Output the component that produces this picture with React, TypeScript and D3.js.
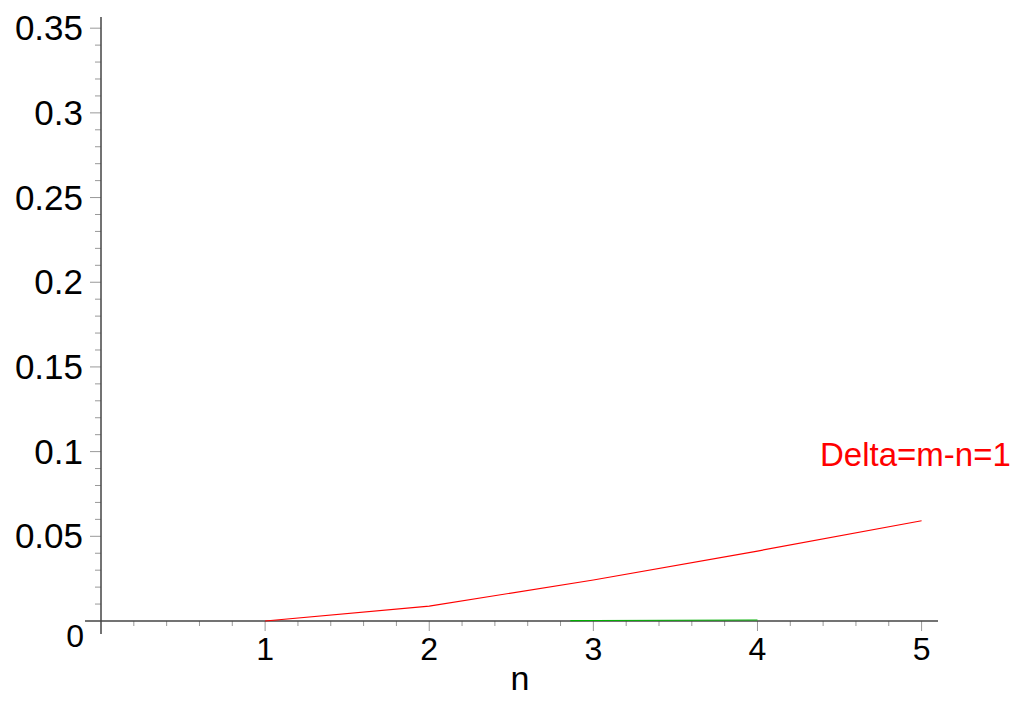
import React, { useEffect, useRef } from 'react';
import * as d3 from 'd3';

const redN = [1, 2, 3, 4, 5];
const redValues = [0, 0.0088, 0.0242, 0.0413, 0.0592];
const greenN = [2.86, 3, 4];
const greenValues = [0.0002, 0.0003, 0.0006];
const xTicks = [1, 2, 3, 4, 5];
const yTicks = [0.05, 0.1, 0.15, 0.2, 0.25, 0.3, 0.35];
const seriesLabel = 'Delta=m-n=1';
const xLabel = 'n';

export default function App() {
  const ref = useRef<SVGSVGElement>(null);

  useEffect(() => {
    document.body.style.margin = '0';
    const width = 1024, height = 707;
    const svg = d3.select(ref.current);
    svg.selectAll('*').remove();

    const x = d3.scaleLinear().domain([0, 5.1]).range([101, 938]);
    const y = d3.scaleLinear().domain([0, 0.3566]).range([621, 17]);
    const font = '"Liberation Sans", Arial, sans-serif';

    // minor ticks
    const xMinor = d3.range(1, 26).map(i => i * 0.2).filter(v => Math.abs(v - Math.round(v)) > 1e-6);
    const yMinor = d3.range(1, 36).map(i => i * 0.01).filter(v => Math.abs(v * 20 - Math.round(v * 20)) > 1e-6);

    const g = svg.append('g');
    g.selectAll('line.xminor').data(xMinor).join('line')
      .attr('x1', d => x(d)).attr('x2', d => x(d))
      .attr('y1', y(0)).attr('y2', y(0) + 5)
      .attr('stroke', '#999').attr('stroke-width', 1);
    g.selectAll('line.xmajor').data(xTicks).join('line')
      .attr('x1', d => x(d)).attr('x2', d => x(d))
      .attr('y1', y(0)).attr('y2', y(0) + 10)
      .attr('stroke', '#999').attr('stroke-width', 1);
    g.selectAll('line.yminor').data(yMinor).join('line')
      .attr('x1', x(0) - 6).attr('x2', x(0))
      .attr('y1', d => y(d)).attr('y2', d => y(d))
      .attr('stroke', '#999').attr('stroke-width', 1);
    g.selectAll('line.ymajor').data(yTicks).join('line')
      .attr('x1', x(0) - 11).attr('x2', x(0))
      .attr('y1', d => y(d)).attr('y2', d => y(d))
      .attr('stroke', '#999').attr('stroke-width', 1);

    // axes
    svg.append('line')
      .attr('x1', 85).attr('x2', x(5.1))
      .attr('y1', y(0)).attr('y2', y(0))
      .attr('stroke', '#444').attr('stroke-width', 1.5);
    svg.append('line')
      .attr('x1', x(0)).attr('x2', x(0))
      .attr('y1', 634).attr('y2', y(0.3566))
      .attr('stroke', '#444').attr('stroke-width', 1.5);

    // tick labels
    svg.selectAll('text.xt').data(xTicks).join('text')
      .attr('x', d => x(d)).attr('y', 660)
      .attr('text-anchor', 'middle')
      .attr('font-family', font).attr('font-size', 32)
      .text(d => d);
    svg.selectAll('text.yt').data(yTicks).join('text')
      .attr('x', 83).attr('y', d => y(d) + 12)
      .attr('text-anchor', 'end')
      .attr('font-family', font).attr('font-size', 35)
      .text(d => String(d));
    svg.append('text')
      .attr('x', 84).attr('y', 647)
      .attr('text-anchor', 'end')
      .attr('font-family', font).attr('font-size', 32)
      .text('0');

    svg.append('text')
      .attr('x', 520).attr('y', 690)
      .attr('text-anchor', 'middle')
      .attr('font-family', font).attr('font-size', 34)
      .text(xLabel);

    // curves
    const line = d3.line<[number, number]>().x(d => x(d[0])).y(d => y(d[1]));
    svg.append('path')
      .datum(greenN.map((n, i) => [n, greenValues[i]] as [number, number]))
      .attr('d', line)
      .attr('fill', 'none').attr('stroke', '#00b000').attr('stroke-width', 1.2);
    svg.append('path')
      .datum(redN.map((n, i) => [n, redValues[i]] as [number, number]))
      .attr('d', line)
      .attr('fill', 'none').attr('stroke', '#ff0000').attr('stroke-width', 1.2);

    svg.append('text')
      .attr('x', 820).attr('y', 466)
      .attr('font-family', font).attr('font-size', 33)
      .attr('fill', '#ff0000')
      .text(seriesLabel);

    svg.attr('width', width).attr('height', height);
  }, []);

  return <svg ref={ref} width={1024} height={707} style={{ display: 'block', background: '#fff' }} />;
}
